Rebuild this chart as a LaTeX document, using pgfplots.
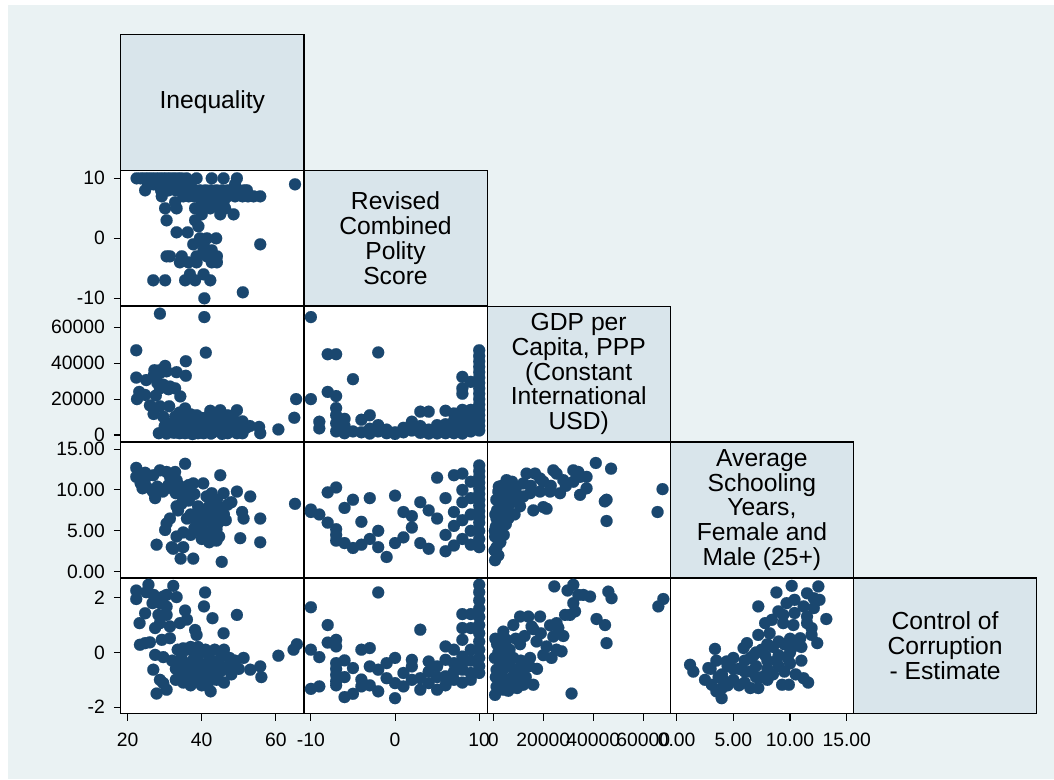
\documentclass[border=0pt]{standalone}
\usepackage{pgfplots}
\pgfplotsset{compat=1.18}
\usepackage{fontspec}
\setmainfont{Liberation Sans}

\definecolor{navy}{RGB}{26,71,111}
\definecolor{gbg}{RGB}{234,242,243}
\definecolor{diagfill}{RGB}{217,229,235}

\newcommand{\tickfont}{\fontsize{14.5}{16}\selectfont}
\newcommand{\diagfont}{\fontsize{18.5}{18.6}\selectfont}

\pgfplotsset{
  cell/.style={
    scale only axis, width=137.4pt, height=101.9pt, anchor=south west,
    axis line style={line width=0.9pt, black},
    axis background/.style={fill=white},
    xtick=\empty, ytick=\empty,
    tick align=outside, major tick length=5.2pt,
    tick style={line width=0.8pt, black},
    scaled ticks=false,
    /pgf/number format/assume math mode=true,
    xticklabel style={font=\tickfont, inner sep=0pt, anchor=north, yshift=-9pt},
    yticklabel style={font=\tickfont, inner sep=0pt, anchor=east, xshift=-6.5pt},
    xtick pos=lower, ytick pos=left,
  },
  dots/.style={only marks, mark=*, mark size=4.5pt, color=navy,
    mark options={fill=navy, draw=navy, line width=0.1pt}},
  diag/.style={
    scale only axis, width=137.4pt, height=101.9pt, anchor=south west,
    axis line style={line width=0.9pt, black},
    axis background/.style={fill=diagfill},
    xmin=0, xmax=1, ymin=0, ymax=1, ticks=none, clip=false,
  },
  % axis ranges of the five variables
  xineq/.style={xmin=18.1, xmax=67.6},
  xpol/.style={xmin=-10.83, xmax=10.94},
  xgdp/.style={xmin=-2480, xmax=70800},
  xsch/.style={xmin=-0.56, xmax=15.6},
  ypol/.style={ymin=-11.3, ymax=11.35},
  ygdp/.style={ymin=-3900, ymax=71800},
  ysch/.style={ymin=-0.76, ymax=15.86},
  ycor/.style={ymin=-2.24, ymax=2.72},
  % tick sets on the outer edges
  tyleftpol/.style={ytick={-10,0,10}, yticklabels={-10,0,10}},
  tyleftgdp/.style={ytick={0,20000,40000,60000}, yticklabels={0,20000,40000,60000}},
  tyleftsch/.style={ytick={0,5,10,15}, yticklabels={0.00,5.00,10.00,15.00}},
  tyleftcor/.style={ytick={-2,0,2}, yticklabels={-2,0,2}},
  txineq/.style={xtick={20,40,60}, xticklabels={20,40,60}},
  txpol/.style={xtick={-10,0,10}, xticklabels={-10,0,10}},
  txgdp/.style={xtick={0,20000,40000,60000}, xticklabels={0,20000,40000,60000}},
  txsch/.style={xtick={0,5,10,15}, xticklabels={0.00,5.00,10.00,15.00}},
}

\begin{document}
\begin{tikzpicture}
% page and graph region
\path[fill=white, use as bounding box] (0,0) rectangle (790.5pt,584.25pt);
\fill[gbg] (6pt,0) rectangle (790.5pt,580.5pt);

% ---------- diagonal: variable names ----------
\begin{axis}[diag, at={(90.525pt,456.6pt)}]
\node[font=\diagfont, align=center] at (axis cs:0.5,0.5) {Inequality};
\end{axis}
\begin{axis}[diag, at={(227.925pt,354.675pt)}]
\node[font=\diagfont, align=center] at (axis cs:0.5,0.5) {Revised\\Combined\\Polity\\Score};
\end{axis}
\begin{axis}[diag, at={(365.325pt,252.75pt)}]
\node[font=\diagfont, align=center] at (axis cs:0.5,0.5) {GDP per\\Capita, PPP\\(Constant\\International\\USD)};
\end{axis}
\begin{axis}[diag, at={(502.725pt,150.825pt)}]
\node[font=\diagfont, align=center] at (axis cs:0.5,0.5) {Average\\Schooling\\Years,\\Female and\\Male (25+)};
\end{axis}
\begin{axis}[diag, at={(640.125pt,48.9pt)}]
\node[font=\diagfont, align=center] at (axis cs:0.5,0.5) {Control of\\Corruption\\- Estimate};
\end{axis}

% ---------- row 2: polity ----------
\begin{axis}[cell, xineq, ypol, tyleftpol, at={(90.525pt,354.675pt)}]
\addplot[dots] coordinates {
(22.4,10)(23.5,10)(24.5,10)(25.5,10)(26.5,10)(27.5,10)(28.5,10)(29.5,10)(30.5,10)(31.5,10)
(32.5,10)(33.5,10)(34.5,10)(35.9,10)(38.6,10)(42.7,10)(45.9,10)(49.5,10)
(25.5,9)(27,9)(28.7,9)(30,9)(31.5,9)(33,9)(34.5,9)(36,9)(37,9)(49,9)(65.2,9)
(24.7,8)(29,8)(31,8)(33,8)(35,8)(36.5,8)(38,8)(39.5,8)(41,8)(42.5,8)(44,8)(45.5,8)
(47,8)(48.5,8)(50,8)(51.5,8)(52.2,8)
(29.2,7)(35,7)(36.5,7)(38,7)(39.5,7)(41,7)(43,7)(45,7)(47,7)(49,7)(51,7)(52.5,7)(54,7)(55.8,7)
(32.8,6)(40,6)(41.5,6)(43.2,6)(45.9,6)
(30.1,5)(33.2,5)(38.2,5)(39.5,5)(42.3,5)(45,5)(46.3,5)
(40,4)(45,4)(48.6,4)
(30.5,3)(38.2,3)
(39.1,2)
(33.2,1)(36.2,1)
(39.5,0)(41.4,0)(43.9,0)
(37.7,-1)(40.5,-1)(55.8,-1)
(40.5,-2)(42.7,-2)
(30.5,-3)(31.4,-3)(34.6,-3)(38.6,-3)(41.4,-3)(44.1,-3)
(34.1,-4)(36.4,-4)(38.6,-4)(42.7,-4)(44.1,-4)
(36.8,-6)(40.5,-6)
(26.9,-7)(30.1,-7)(35.5,-7)(38.2,-7)(42.3,-7)
(51.1,-9)(40.7,-10)
};
\end{axis}

% ---------- row 3: GDP ----------
\begin{axis}[cell, xineq, ygdp, tyleftgdp, at={(90.525pt,252.75pt)}]
\addplot[dots] coordinates {
(28.7,67600)(40.7,65700)(22.3,47200)(41.1,45900)(35.7,41100)(30.1,38500)(27.2,36100)
(28.7,36100)(22.3,32000)(25.0,30600)(27,33000)(28.7,34500)(30.5,35500)(33.2,35000)
(35.7,33000)(28,29000)(29.6,28000)(31.4,27000)(28.7,26000)(31,25500)(32.8,26000)
(23.1,24000)(24.7,22300)(22.5,20000)(27.6,22000)(34.2,21500)(26,16500)(28.7,16000)
(31.2,16000)(27,11700)(29.6,10200)(32.8,10200)(35.5,14800)(38.6,11000)(42.3,13500)
(45,13800)(49.5,13800)(43,12000)(47,11000)(36,9000)(40,9500)(44,8500)(48.5,9000)
(51,7600)(53,5000)(55.5,4500)
(30,5000)(31,2000)(32,6500)(33,3500)(34,1000)(35,4500)(36,2000)(37,6000)(38,3000)
(39,1000)(40,5000)(41,2500)(42,7000)(43,1500)(44,4000)(45,2000)(46,6000)(47,1000)
(48,3500)(49,5500)(50,2000)(51,1000)(52,4000)(33.5,8000)(38.5,8000)(41.5,10000)
(35.5,1000)(37.5,500)(42.5,800)(45.5,600)(30.5,800)(44.5,9500)(46.5,3000)
(32.5,1200)(34.5,5500)(36.5,4000)(38,7000)(39.5,3000)(40.5,1000)(42,4500)(43.5,6000)
(45,8000)(47.5,4500)(49.5,1000)(37,11500)(34,12500)
(28.4,1000)(55.8,1000)(60.7,3100)(65.0,9600)(65.5,20000)
};
\end{axis}
\begin{axis}[cell, xpol, ygdp, at={(227.925pt,252.75pt)}]
\addplot[dots] coordinates {
(-10,65700)(-8,45000)(-7,45000)(-2,46000)(-5,31100)(-8,24000)(-7,21700)(-10,20000)
(-7,15000)(-7,11000)(-7,6500)(-7,2000)(-9,7400)(-9,3700)(-6,9000)(-6,5000)(-5,2000)
(-4,8500)(-4,1500)(-3,11000)(-3,3500)(-2,5500)(-2,2000)(-1,1000)(0,1500)(1,1500)
(2,7400)(2,2500)(3,13000)(3,5000)(4,13000)(4,3000)(5,2500)(6,13500)(6,6000)(6,1000)
(7,12000)(7,5000)(7,1000)(8,32400)(8,26000)(8,23000)(8,14000)(8,9000)(8,4000)(8,800)
(9,29600)(9,14000)(9,10000)(9,6000)(9,2000)
(-6,1000)(-3,800)(-1,3000)(0,600)(1,4000)(3,1200)(4,800)(5,5500)(5,900)(7,8000)(8,11500)
(9,4000)(9,8000)(9,12000)(6,3500)
(10,47200)(10,44000)(10,41000)(10,38000)(10,35000)(10,32000)(10,29000)(10,26000)
(10,23000)(10,20000)(10,17000)(10,14000)(10,11000)(10,8000)(10,5000)(10,2500)
};
\end{axis}

% ---------- row 4: schooling ----------
\begin{axis}[cell, xineq, ysch, tyleftsch, at={(90.525pt,150.825pt)}]
\addplot[dots] coordinates {
(22.3,12.7)(22.3,11.6)(24.7,12.1)(25.1,11.6)(26.9,11.8)(28.7,12.4)(30.5,12.2)(32.8,12.2)
(31.4,11.6)(33.2,11.2)(35.5,13.2)(45.0,11.8)
(23.5,10.8)(25,10.4)(26.5,10.0)(28,10.4)(29.5,9.8)(31,10.6)(32.5,10.0)(34,10.5)(35.5,9.6)
(36.5,10.6)(24,10.2)(27,9.7)(30,10.1)(33,9.6)
(27.4,9.0)(33.2,8.0)(33.6,7.5)(37.7,10.8)(40.4,10.8)
(41.3,9.2)(42.7,9.6)(45.9,9.6)(49.5,9.8)(53.1,9.2)(44.1,8.8)
(36,6.5)(31.4,6.5)(30.5,5.9)(30.1,5.1)(55.8,6.5)(51.3,6.5)(50.9,7.3)
(27.8,3.3)(33.2,4.3)(35,4.8)(37,4.5)(39,5.0)(41,4.4)(43,4.6)(44.7,4.3)
(31.9,3.0)(32.3,2.8)(35,3.0)(34.3,1.6)(37.7,1.6)(45.4,1.2)(50.4,4.1)(55.8,3.6)(65.2,8.3)
(37,7)(38.5,6)(39,8)(40,5.5)(40.5,7)(41.5,6.3)(42,8)(43,5.3)(43.5,7.2)(44.5,6)(45,7.8)
(46,7)(47,8.2)(48,8.5)(46.5,6.3)(38,5.3)(39.5,6.8)(41,7.6)(42.5,6.8)(44,5.2)
(36.5,8.7)(38,9.5)(35,9.0)(34.5,8.3)(40,4.0)(42,3.6)(44,3.8)
};
\end{axis}
\begin{axis}[cell, xpol, ysch, at={(227.925pt,150.825pt)}]
\addplot[dots] coordinates {
(-10,7.6)(-10,7.3)(-9,7.0)(-8,9.7)(-7,10.3)(-8,6.0)(-7,5.2)(-7,4.5)(-7,3.8)(-6,3.5)
(-6,7.8)(-5,2.9)(-5,8.8)(-4,3.3)(-4,6.1)(-3,4.0)(-3,9.0)(-2,5.0)(-2,3.0)(-1,1.8)
(0,9.3)(0,3.5)(1,7.3)(1,4.2)(2,6.8)(2,5.4)(3,8.5)(3,3.5)(4,7.5)(4,2.8)(5,11.5)(5,6.5)
(6,9.0)(6,4.5)(6,2.5)(7,11.8)(7,7.3)(7,5.6)(7,3.2)(8,12.0)(8,10.0)(8,8.5)(8,6.3)(8,4.0)
(9,11.0)(9,9.0)(9,7.0)(9,5.0)(9,3.3)
(10,13.0)(10,12.3)(10,11.6)(10,10.9)(10,10.2)(10,9.5)(10,8.8)(10,8.1)(10,7.4)(10,6.7)
(10,6.0)(10,5.0)(10,4.0)(10,3.0)
};
\end{axis}
\begin{axis}[cell, xgdp, ysch, at={(365.325pt,150.825pt)}]
\addplot[dots] coordinates {
(41000,13.3)(47100,12.6)(67700,10.1)(65700,7.3)(45300,8.8)(44600,8.6)(45300,6.2)
(700,1.4)(2000,2.0)(1300,3.0)(700,4.3)(1000,5.5)(1300,6.5)(2700,8.4)(2000,9.8)
(5300,11.2)(6700,10.8)(13300,12.0)(16700,12.0)(18700,11.4)(24000,12.4)(25300,12.0)
(32000,12.4)(34000,12.2)(34700,11.6)(37300,11.6)(32000,11.0)(28000,11.2)(37300,10.2)
(34700,9.4)(26700,9.6)(22700,9.8)(18700,9.8)(14700,9.6)(12000,9.2)(8000,8.8)(10700,8.0)
(16000,7.5)(20000,7.9)(21300,7.7)
(1500,7.5)(2500,6.8)(3500,8.0)(4500,9.0)(5500,10.0)(3000,5.0)(2000,4.0)(4000,7.0)
(6000,8.0)(7000,9.5)(9000,10.2)(10000,9.0)(3500,10.5)(6000,6.5)(8500,7.0)(5000,5.8)
(1200,8.8)(2200,10.4)(12000,10.8)(15000,10.5)(20000,11.0)(23000,10.5)(29000,10.5)
(800,7.0)(600,5.0)(1800,5.5)(2800,3.6)(4200,4.5)(500,2.6)(3200,9.4)(7500,11.0)
};
\end{axis}

% ---------- row 5: corruption ----------
\begin{axis}[cell, xineq, ycor, tyleftcor, txineq, at={(90.525pt,48.9pt)}]
\addplot[dots] coordinates {
(22.3,2.26)(22.3,1.95)(25.6,2.47)(25,2.2)(27,2.1)(27.8,1.86)(29.6,2.04)(30.5,2.1)
(32.3,2.43)(33.2,2.02)(26.7,1.8)(28.7,1.8)(30.5,1.67)(24.7,1.43)(28.3,1.37)(30.5,1.37)
(35.5,1.53)(40.9,2.19)(40.6,1.68)(42.9,1.25)(49.5,1.37)(23.2,1.07)(27.4,0.89)(28.7,1.07)
(31.4,0.95)(34.1,1.07)(36,1.2)(38.2,0.82)(38.6,0.64)(45.9,0.7)(23.3,0.28)(24.7,0.34)
(26,0.37)(29.2,0.46)(31.4,0.52)(27.4,-0.09)(29.6,-0.17)(26.9,-0.63)(27.8,-1.5)
(30.5,-1.36)(28.7,-1.0)(29.6,-1.12)
(51.3,-0.2)(53.1,-0.63)(55.8,-0.51)(56.1,-0.9)(42.4,-1.42)(60.7,-0.12)(64.8,0.1)(65.7,0.3)
(32,-0.3)(33,-0.6)(34,-0.9)(34.5,-0.2)(35,-1.1)(35.5,-0.5)(36,0.1)(36.5,-0.8)(37,-1.2)
(37.5,-0.3)(38,0)(38.5,-0.7)(39,-1.0)(39.5,-0.4)(40,0.05)(40.5,-0.9)(41,-0.6)(41.5,-1.2)
(42,-0.2)(42.5,-0.8)(43,-0.5)(43.5,0.1)(44,-1.0)(44.5,-0.3)(45,-0.7)(45.5,-0.1)(46,-1.1)
(47,-0.5)(48,-0.8)(49,-0.3)(50,-0.6)(33.5,0.1)(35,0.15)(37,0.2)(39,0.2)(41,0.1)(46,0.1)
(47.5,-0.2)
(33,-1.0)(34,-0.4)(36,-0.5)(36,-1.0)(38,-0.4)(38,-1.0)(40,-0.6)(40,-1.2)(42,-0.5)
(42,-1.0)(44,-0.6)(46,-0.6)(48,-0.4)(39,-0.1)(37,-0.7)(35,-0.8)
};
\end{axis}
\begin{axis}[cell, xpol, ycor, txpol, at={(227.925pt,48.9pt)}]
\addplot[dots] coordinates {
(-10,1.65)(-2,2.19)(-8,1.0)(-8,0.36)(-7,0.46)(-7,0.22)(-10,0.1)(-9,-0.17)(-10,-1.33)
(-9,-1.24)(-7,-0.39)(-7,-0.6)(-7,-0.82)(-7,-1.05)(-7,-1.2)(-6,-0.29)(-6,-0.9)(-6,-1.63)
(-5,-0.57)(-5,-1.51)(-4,0.1)(-4,-0.99)(-4,-1.24)(-3,0.16)(-3,-0.51)(-3,-1.2)(-2,-0.63)
(-2,-1.42)(-1,-0.39)(-1,-0.94)(0,-0.2)(0,-1.67)(0,-1.12)(1,-0.75)(1,-1.24)(2,-0.27)
(2,-0.51)(3,0.83)(3,-0.94)(3,-1.36)(4,-0.33)(4,-1.12)(5,-0.51)(5,-1.36)(6,0.22)(6,-0.27)
(6,-0.87)(7,0.1)(7,-0.39)(7,-1.0)(8,1.4)(8,0.89)(8,0.46)(8,-0.15)(8,-0.63)(8,-1.1)
(9,1.4)(9,0.89)(9,0.1)(9,-0.75)(10,2.47)(10,2.2)(10,1.9)(10,1.6)(10,1.3)(10,1.0)(10,0.7)
(10,0.4)(10,0.1)(10,-0.2)(10,-0.5)(10,-0.75)(5,-0.9)(6,-1.2)(7,-0.7)(8,-0.4)(9,-0.3)
(9,-1.0)(4,-0.7)(2,-1.0)
};
\end{axis}
\begin{axis}[cell, xgdp, ycor, txgdp, at={(365.325pt,48.9pt)}]
\addplot[dots] coordinates {
(24400,2.41)(29700,2.26)(32000,2.47)(34000,2.1)(36000,2.1)(38700,2.04)(46000,2.22)
(47300,1.98)(66000,1.68)(68000,1.95)(32000,1.8)(32700,1.5)(30700,1.37)(28700,1.37)
(41300,1.22)(44700,1.0)(45300,0.34)(31300,-1.5)
(4000,0.76)(5300,0.46)(10700,1.31)(14000,1.31)(18700,1.31)(15300,0.95)(22700,0.99)
(25300,1.07)(24000,0.58)(25300,0.1)(27300,0.04)(17300,0.4)(21300,0.22)(23300,-0.2)
(10700,0.3)(14700,-0.2)(16000,0.85)(8000,1.0)
(700,-1.55)(1300,-1.25)(4000,-1.36)(7300,-1.18)(12000,-1.18)(16000,-1.18)(1300,-0.63)
(4000,-0.4)(6700,-0.51)(9300,-0.63)(12000,-0.63)(1000,-0.9)(3000,-0.95)(5500,-1.0)
(8000,-0.85)(10500,-0.95)(2000,0.0)(5000,-0.1)(8000,-0.2)(11000,-0.3)(1500,0.3)
(3500,0.2)(6500,0.1)(2500,-0.3)(13000,-0.9)(14500,-0.5)(6000,-1.4)(9500,-1.3)
(2500,-1.1)(3500,-0.7)(600,-0.2)(800,0.5)
(19000,0.7)(20000,-0.1)(17500,-0.6)(12500,0.6)(9000,0.5)(28000,0.6)(26000,0.9)
};
\end{axis}
\begin{axis}[cell, xsch, ycor, txsch, at={(502.725pt,48.9pt)}]
\addplot[dots] coordinates {
(1.18,-0.45)(1.47,-0.7)(3.38,0.13)(2.8,-0.57)(2.5,-1.0)(3.1,-1.18)(3.5,-1.42)(3.97,-1.67)
(4.1,-1.0)(4.4,-0.33)(7.2,1.68)(8.8,2.19)(10.15,2.43)(12.5,2.41)(13.2,1.22)(11.5,2.16)
(12.1,1.98)(12.6,1.92)(9.7,1.8)(10.4,1.92)(11.2,1.68)(12.1,1.62)(8.97,1.5)(9.4,1.37)
(10.4,1.44)(11.5,1.31)(7.8,1.07)(8.4,1.19)(9.4,1.07)(10.3,1.0)(11.5,1.07)(11.9,0.89)
(7.2,0.64)(8.2,0.7)(11.9,0.64)(5.9,0.16)(6.2,0.34)(12.4,0.34)(10.9,0.52)(9.3,-1.18)
(9.9,-1.18)(11.2,-0.94)(11.6,-1.1)(7.2,-1.3)
(3,-0.6)(3.5,-0.3)(4,-0.8)(4.5,-0.5)(5,-0.2)(5,-1.0)(5.5,-0.6)(6,-0.3)(6,-1.1)(6.5,-0.7)
(7,0)(7,-0.5)(7.5,-0.9)(7.5,0.1)(8,-0.3)(8,-0.6)(8.5,0.2)(8.5,-0.8)(9,-0.1)(9,-0.5)
(9.5,0.3)(9.5,-0.7)(10,0)(10,-0.4)(10.5,0.25)(10.5,-0.8)(4,-1.3)(5.5,-1.2)(6.5,-1.3)
(8,0.3)(9,0.4)(10,0.5)(11,0.2)(11,-0.3)(4.5,-1.2)(3.7,-0.9)(6.8,-0.1)
(5,-0.6)(6,-0.7)(7,-0.9)(8,-1.0)(8.8,-0.3)(9.8,-0.2)(10.2,0.2)(7.8,-0.1)(6.5,-0.2)
};
\end{axis}
\end{tikzpicture}
\end{document}
